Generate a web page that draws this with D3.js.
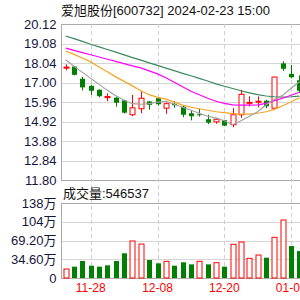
<!DOCTYPE html>
<html>
<head>
<meta charset="utf-8">
<script src="https://cdn.jsdelivr.net/npm/d3@7"></script>
<style>
body { margin: 0; background: #fff; }
svg { display: block; font-family: "Liberation Sans", Arial, "Noto Sans CJK SC", sans-serif; }
</style>
</head>
<body>
<script>
var dates = ["11-23","11-24","11-27","11-28","11-29","11-30","12-01","12-04","12-05","12-06",
             "12-07","12-08","12-11","12-12","12-13","12-14","12-15","12-18","12-19","12-20",
             "12-21","12-22","12-25","12-26","12-27","12-28","12-29","01-02","01-03"];
var open  = [17.80,17.85,17.20,16.82,16.61,16.23,16.19,16.05,15.28,15.60,15.99,16.16,15.63,15.86,15.71,
             15.36,15.31,15.04,14.90,14.99,14.75,15.28,15.90,15.97,16.03,15.63,18.02,17.46,17.12];
var close = [17.82,17.41,16.74,16.56,16.27,16.25,15.92,15.39,15.65,16.16,15.81,15.84,15.87,15.79,15.28,
             15.20,15.26,14.86,15.04,14.70,15.28,16.37,15.94,16.00,15.73,17.29,17.73,17.28,16.56];
var high  = [17.97,17.88,17.30,16.88,16.64,16.42,16.24,16.08,16.34,16.53,16.02,16.21,15.94,16.00,15.79,
             15.52,15.60,15.28,15.12,15.01,15.63,16.61,16.26,16.26,16.08,17.31,18.13,17.94,17.38];
var low   = [17.65,17.38,16.58,16.34,16.21,16.00,15.71,15.34,15.20,15.36,15.55,15.76,15.33,15.65,15.15,
             14.98,15.18,14.78,14.80,14.67,14.62,15.12,15.73,15.67,15.63,15.62,17.62,17.22,16.45];
var ma5   = [18.21,17.86,17.54,17.22,16.90,16.58,16.29,16.05,15.87,15.84,15.87,15.95,16.00,15.84,15.68,
             15.52,15.36,15.20,15.10,14.96,14.75,14.96,15.20,15.44,15.81,16.11,16.32,16.69,17.04];
var ma10  = [18.68,18.50,18.31,18.10,17.83,17.57,17.30,17.06,16.82,16.56,16.35,16.21,16.11,15.95,15.79,
             15.68,15.60,15.52,15.44,15.39,15.34,15.31,15.31,15.36,15.44,15.57,15.76,15.97,16.19];
var ma20  = [18.83,18.71,18.59,18.48,18.36,18.24,18.13,18.01,17.89,17.78,17.62,17.46,17.25,17.01,16.77,
             16.53,16.35,16.16,16.00,15.89,15.81,15.79,15.79,15.81,15.89,16.03,16.16,16.32,16.48];
var ma60  = [19.48,19.34,19.19,19.04,18.90,18.76,18.62,18.47,18.33,18.19,18.05,17.91,17.77,17.63,17.49,
             17.36,17.22,17.08,16.93,16.80,16.68,16.56,16.45,16.35,16.28,16.24,16.22,16.24,16.27];
// volume in 万 shares
var volume = [16.6,20.9,31.4,22.7,20.9,23.4,31.4,45.6,68.3,62.7,33.2,27.1,30.8,22.7,29.0,
              25.2,30.8,25.2,28.2,20.9,62.2,66.4,36.3,42.4,37.5,75.1,107.0,59.0,49.8];
var volUp = [1,0,0,0,0,0,0,0,1,1,0,0,1,0,0,0,1,0,1,0,1,1,1,1,0,1,1,0,0];

var priceTicks = [20.12,19.08,18.04,17.00,15.96,14.92,13.88,12.84,11.80];
var volTicks = [0,34.6,69.2,103.8,138.4];
var volTickLabels = ["0","34.60万","69.20万","104万","138万"];
var dateTicks = ["11-28","12-08","12-20","01-02"];

var title = "爱旭股份[600732] 2024-02-23 15:00";
var volTitle = "成交量:546537";

var W = 300, H = 300;
var left = 61;
var RED = "#ff0000", GREEN = "#008000";

var svg = d3.select("body").append("svg")
    .attr("width", W)
    .attr("height", H);

var x = d3.scaleBand()
    .domain(dates)
    .range([left + 0.5, left + 0.5 + dates.length * 8.35]);
var cx = function(i) { return x(dates[i]) + x.bandwidth() / 2; };

var y = d3.scaleLinear().domain([11.80, 20.12]).range([180, 24]);
var yv = d3.scaleLinear().domain([0, 138.4]).range([278, 203]);

// horizontal grid
svg.append("g").selectAll("line")
    .data(priceTicks)
    .enter().append("line")
    .attr("x1", left).attr("x2", W)
    .attr("y1", function(d) { return Math.round(y(d)) + 0.5; })
    .attr("y2", function(d) { return Math.round(y(d)) + 0.5; })
    .attr("stroke", function(d, i) { return (i == 0 || i == priceTicks.length - 1) ? "#aaaaaa" : "#d6d6d6"; });

svg.append("g").selectAll("line")
    .data(volTicks)
    .enter().append("line")
    .attr("x1", left).attr("x2", W)
    .attr("y1", function(d) { return Math.round(yv(d)) + 0.5; })
    .attr("y2", function(d) { return Math.round(yv(d)) + 0.5; })
    .attr("stroke", function(d, i) { return (i == 0 || i == volTicks.length - 1) ? "#aaaaaa" : "#d6d6d6"; });

// vertical dashed grid
svg.append("g").selectAll("line")
    .data(dateTicks)
    .enter().append("line")
    .attr("x1", function(d) { return Math.round(cx(dates.indexOf(d))) + 0.5; })
    .attr("x2", function(d) { return Math.round(cx(dates.indexOf(d))) + 0.5; })
    .attr("y1", 24).attr("y2", 278)
    .attr("stroke", "#cfcfcf")
    .attr("stroke-dasharray", "4,3");

// left border lines
svg.append("line").attr("x1", left + 0.5).attr("x2", left + 0.5)
    .attr("y1", 24).attr("y2", 180.5).attr("stroke", "#aaaaaa");
svg.append("line").attr("x1", left + 0.5).attr("x2", left + 0.5)
    .attr("y1", 203).attr("y2", 278.5).attr("stroke", "#aaaaaa");

// axes labels
var yAxis = d3.axisLeft(y).tickValues(priceTicks).tickSize(0).tickPadding(4)
    .tickFormat(d3.format(".2f"));
var gy = svg.append("g").attr("transform", "translate(" + (left - 0.5) + ",0)").call(yAxis);
gy.select(".domain").remove();
gy.selectAll("text").attr("font-size", 13).attr("fill", "#14143c")
    .attr("font-family", "Liberation Sans, Arial, sans-serif");

var vAxis = d3.axisLeft(yv).tickValues(volTicks).tickSize(0).tickPadding(4)
    .tickFormat(function(d, i) { return volTickLabels[i]; });
var gv = svg.append("g").attr("transform", "translate(" + (left - 0.5) + ",0)").call(vAxis);
gv.select(".domain").remove();
gv.selectAll("text").attr("font-size", 13).attr("fill", "#14143c")
    .attr("font-family", "Liberation Sans, Arial, Noto Sans CJK SC, sans-serif");

var xAxis = d3.axisBottom(x).tickValues(dateTicks).tickSize(0).tickPadding(4);
var gx = svg.append("g").attr("transform", "translate(0,279)").call(xAxis);
gx.select(".domain").remove();
gx.selectAll("text").attr("font-size", 12).attr("fill", RED)
    .attr("font-family", "Liberation Sans, Arial, sans-serif");

// candles
var candles = svg.append("g").selectAll("g")
    .data(dates)
    .enter().append("g");

candles.append("line")
    .attr("x1", function(d, i) { return Math.round(cx(i)) + 0.5; })
    .attr("x2", function(d, i) { return Math.round(cx(i)) + 0.5; })
    .attr("y1", function(d, i) { return y(high[i]); })
    .attr("y2", function(d, i) { return y(low[i]); })
    .attr("stroke", function(d, i) { return close[i] >= open[i] ? RED : GREEN; });

candles.append("rect")
    .attr("x", function(d, i) { return Math.round(cx(i)) - 2; })
    .attr("y", function(d, i) { return y(Math.max(open[i], close[i])); })
    .attr("width", 5)
    .attr("height", function(d, i) { return Math.max(1, Math.abs(y(open[i]) - y(close[i]))); })
    .attr("fill", function(d, i) { return close[i] >= open[i] ? "#ffffff" : GREEN; })
    .attr("stroke", function(d, i) { return close[i] >= open[i] ? RED : GREEN; })
    .attr("stroke-width", function(d, i) { return close[i] >= open[i] ? 1 : 0; });

// moving averages
var maList = [[ma60, "#3a8a5e"], [ma20, "#ff00ff"], [ma10, "#f5a623"], [ma5, "#a0a0a0"]];
var line = d3.line()
    .x(function(d, i) { return cx(i); })
    .y(function(d) { return y(d); });
svg.append("g").selectAll("path")
    .data(maList)
    .enter().append("path")
    .attr("d", function(d) { return line(d[0]); })
    .attr("fill", "none")
    .attr("stroke", function(d) { return d[1]; })
    .attr("stroke-width", 1.2);

// volume bars
svg.append("g").selectAll("rect")
    .data(volume)
    .enter().append("rect")
    .attr("x", function(d, i) { return Math.round(cx(i)) - 2; })
    .attr("y", function(d) { return yv(d); })
    .attr("width", 5)
    .attr("height", function(d) { return yv(0) - yv(d); })
    .attr("fill", function(d, i) { return volUp[i] ? "#ffffff" : GREEN; })
    .attr("stroke", function(d, i) { return volUp[i] ? RED : "none"; });

// titles
svg.append("text")
    .attr("x", 61).attr("y", 15)
    .attr("font-size", 13)
    .attr("fill", "#111")
    .text(title);

svg.append("text")
    .attr("x", 63).attr("y", 198)
    .attr("font-size", 13)
    .attr("fill", "#111")
    .text(volTitle);
</script>
</body>
</html>
